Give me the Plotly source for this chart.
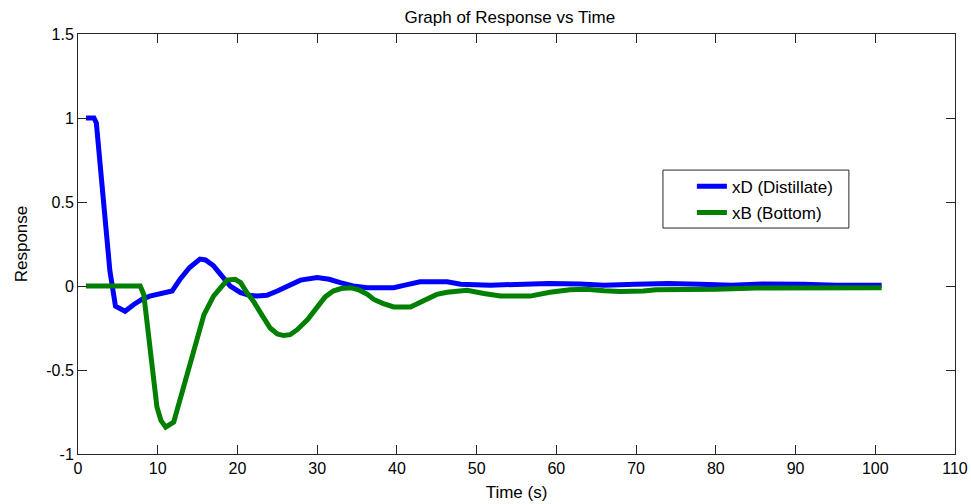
import plotly.graph_objects as go

# Distillate composition response
t_xd = [1, 2, 2.3, 3, 4, 4.7, 5.9, 7, 8, 9, 10.3, 11.8, 12.8, 14, 15.3, 16, 17, 18,
        19.1, 20.4, 21.5, 22.5, 23.7, 25, 26.5, 27.9, 30, 31.5, 32.9, 34.5, 36.3,
        39.6, 41, 42.9, 46.3, 48, 51.7, 55.9, 59, 63, 66, 69.9, 74, 78, 82, 85.8,
        89, 91, 95, 100.8]
xd = [1.0, 1.0, 0.97, 0.58, 0.09, -0.12, -0.15, -0.11, -0.08, -0.06, -0.045, -0.03,
      0.04, 0.11, 0.16, 0.155, 0.12, 0.06, 0.0, -0.04, -0.055, -0.06, -0.055, -0.03,
      0.0, 0.035, 0.05, 0.04, 0.02, 0.0, -0.01, -0.01, 0.005, 0.025, 0.025, 0.01,
      0.005, 0.01, 0.015, 0.012, 0.005, 0.01, 0.015, 0.01, 0.005, 0.012, 0.015,
      0.01, 0.005, 0.005]

# Bottom composition response
t_xb = [1, 7.8, 8.25, 9.0, 9.9, 10.4, 11, 12, 12.8, 13.7, 14.8, 15.8, 17, 18, 18.7,
        19.7, 20.4, 21.2, 22, 22.9, 24.1, 25, 25.8, 26.6, 27.5, 28.8, 30, 31, 32, 33,
        34.2, 35.3, 36.3, 37.1, 38.3, 39.6, 41.7, 42.8, 43.8, 45, 46.3, 47.9, 48.8,
        50.9, 53, 56.7, 59.2, 61.7, 63.8, 66, 68, 70.9, 72.5, 80, 85, 100.8]
xb = [0.0, 0.0, -0.05, -0.38, -0.72, -0.8, -0.84, -0.81, -0.68, -0.52, -0.33, -0.17,
      -0.06, 0.0, 0.035, 0.04, 0.02, -0.04, -0.09, -0.16, -0.25, -0.285, -0.295,
      -0.29, -0.26, -0.2, -0.12, -0.065, -0.03, -0.015, -0.01, -0.025, -0.05, -0.08,
      -0.105, -0.125, -0.125, -0.1, -0.07, -0.05, -0.037, -0.025, -0.025, -0.045,
      -0.06, -0.06, -0.037, -0.022, -0.02, -0.028, -0.033, -0.03, -0.022, -0.02,
      -0.012, -0.01]

x_ticks = list(range(0, 111, 10))
y_ticks = [-1, -0.5, 0, 0.5, 1, 1.5]
y_tick_text = ["-1", "-0.5", "0", "0.5", "1", "1.5"]

font_family = "Liberation Sans, Arial, sans-serif"
axis_color = "#262626"

fig = go.Figure()
fig.add_trace(go.Scatter(x=t_xd, y=xd, mode="lines", name="xD (Distillate)",
                         legendgroup="d",
                         line=dict(color="#0000ff", width=5)))
fig.add_trace(go.Scatter(x=t_xb, y=xb, mode="lines", name="xB (Bottom)",
                         legendgroup="b",
                         line=dict(color="#007f00", width=5)))

axis_common = dict(
    showgrid=False, zeroline=False, showline=True, linecolor=axis_color,
    linewidth=1, mirror="ticks", ticks="inside", ticklen=9, tickcolor=axis_color,
    tickfont=dict(family=font_family, size=16, color="#000"),
    automargin=False,
)

# legend frame (box drawn as a paper-space rectangle behind the legend entries)
fig.add_shape(type="rect", xref="paper", yref="paper",
              x0=0.667, x1=0.879, y0=0.538, y1=0.676,
              line=dict(color=axis_color, width=1), fillcolor="white",
              layer="above")

fig.update_layout(
    width=971, height=504,
    margin=dict(l=78, r=16, t=34, b=50),
    paper_bgcolor="white", plot_bgcolor="white",
    title=dict(text="Graph of Response vs Time", x=0.525, xanchor="center",
               y=0.967, yanchor="middle",
               font=dict(family=font_family, size=17, color="#000")),
    xaxis=dict(range=[0, 110], tickvals=x_ticks,
               title=dict(text="Time (s)", standoff=9,
                          font=dict(family=font_family, size=17, color="#000")),
               **axis_common),
    yaxis=dict(range=[-1, 1.5], tickvals=y_ticks, ticktext=y_tick_text,
               title=dict(text="Response", standoff=14,
                          font=dict(family=font_family, size=17, color="#000")),
               **axis_common),
    legend=dict(x=0.70, y=0.679, xanchor="left", yanchor="top",
                bgcolor="rgba(0,0,0,0)", borderwidth=0,
                font=dict(family=font_family, size=17, color="#000"),
                tracegroupgap=1, traceorder="grouped"),
    showlegend=True,
)

fig.write_html("out.html")
